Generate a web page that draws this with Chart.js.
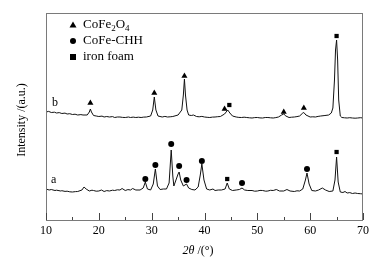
<!DOCTYPE html>
<html>
<head>
<meta charset="utf-8">
<script src="https://cdn.jsdelivr.net/npm/chart.js@4"></script>
<style>
  html, body { margin: 0; padding: 0; background: #fff; }
  #wrap { width: 380px; height: 262px; }
</style>
</head>
<body>
<div id="wrap"><canvas id="xrd"></canvas></div>
<script>
// pattern a: CoFe-CHH on iron foam (2theta, intensity a.u.)
const angleA = [10, 10.6, 11, 11.7, 12, 12.8, 13, 13.6, 14, 14.5, 15, 15.6, 16, 16.8, 17.2, 17.6, 18.2, 18.7, 19, 19.5, 20, 20.5, 21, 21.5, 22, 22.6, 23, 23.5, 24, 24.4, 25, 25.5, 26, 26.4, 27, 27.8, 28.4, 28.8, 29.2, 29.8, 30.3, 30.7, 31.1, 31.6, 32.2, 32.8, 33.3, 33.7, 34.0, 34.2, 34.6, 35.0, 35.2, 35.5, 36.0, 36.6, 37.0, 37.6, 38.2, 38.8, 39.2, 39.5, 39.9, 40.4, 41, 41.6, 42, 42.6, 43.2, 43.9, 44.3, 44.7, 45.3, 46, 46.6, 47.1, 47.6, 48.2, 49, 49.5, 50, 50.5, 51, 51.6, 52, 52.5, 53, 53.6, 54.2, 55, 55.6, 56.2, 57, 57.5, 58, 58.6, 59.1, 59.4, 59.8, 60.3, 61, 61.6, 62.3, 62.9, 63.6, 64.3, 64.7, 65.0, 65.3, 65.7, 66.2, 66.6, 67, 67.5, 68, 68.5, 69, 69.5, 70];
const intensityA = [31, 30, 30.5, 29.5, 29.8, 29, 29.3, 28.6, 28.8, 28.2, 28, 28.4, 28.5, 30, 33, 31, 29, 29.8, 29.5, 28.8, 29, 30, 28.5, 29.4, 29, 29.8, 29.5, 30.2, 30, 31.5, 29.5, 30.4, 30, 31.5, 30, 30, 32, 38, 31, 30, 36, 51, 34, 30.5, 31, 31, 37, 70, 44, 34, 40, 46, 48, 40, 34, 36, 32, 30.5, 30, 33, 45, 56, 40, 31, 30, 31, 29.5, 30, 30, 31, 37, 31, 29.5, 30, 30.5, 32, 30, 29.5, 29.5, 28.8, 29, 29.6, 29.5, 28.8, 29, 29.7, 29.5, 30.5, 29, 29, 30.5, 29, 28.5, 29.2, 29, 31, 40, 47, 36, 29.5, 29, 30, 32, 30, 28.5, 29, 40, 63, 38, 28, 27.5, 28.5, 27, 27.4, 26.5, 27, 26.5, 26.3, 26];

// pattern b: CoFe2O4 on iron foam
const angleB = [10, 10.5, 11, 11.6, 12, 12.5, 13, 13.6, 14, 14.5, 15, 15.5, 16, 16.6, 17, 17.8, 18.2, 18.4, 18.6, 19, 19.5, 20, 20.6, 21, 21.5, 22, 22.6, 23, 23.5, 24, 24.5, 25, 25.6, 26, 26.5, 27, 27.5, 28, 28.5, 29, 29.8, 30.2, 30.5, 30.8, 31.2, 32, 32.5, 33, 33.5, 34, 35, 35.7, 36.0, 36.2, 36.4, 36.7, 37, 37.5, 37.9, 38.5, 39, 39.5, 40, 40.5, 41, 41.5, 42, 42.5, 43, 43.8, 44.4, 44.8, 45.3, 46, 46.5, 47, 47.5, 48, 48.5, 49, 49.5, 50, 50.5, 51, 51.5, 52, 52.5, 53, 53.5, 54, 54.6, 55, 55.4, 56, 56.5, 57, 57.5, 58, 58.6, 58.8, 59.2, 60, 60.5, 61, 61.5, 62, 62.8, 63.5, 64.0, 64.3, 64.6, 64.8, 65.0, 65.2, 65.4, 65.7, 66, 66.5, 67, 67.5, 68, 68.5, 69, 69.5, 70];
const intensityB = [108, 108.6, 107.5, 107.8, 107, 107.4, 106.5, 106.9, 106, 106.3, 105.5, 105.8, 105, 105.4, 105, 105, 108, 111, 108, 104.5, 104, 103.5, 103.9, 103, 103.5, 103, 103.4, 102.5, 103, 103, 102.6, 102.5, 103, 102.5, 102.9, 102.5, 102.8, 102.5, 102.9, 103, 104, 110, 123, 110, 104, 103, 103.6, 103, 103.2, 103.5, 105, 110, 125, 141, 125, 110, 105, 104.5, 105, 103.5, 103.2, 103.6, 103, 102.7, 102.5, 102.9, 103, 103.3, 103.5, 106, 110, 107, 104, 103, 102.6, 102.5, 102.8, 102.5, 102.2, 102, 102.4, 102.5, 102.1, 102, 102.5, 102.5, 102.2, 102, 102.4, 103, 105, 106, 104, 102.5, 102.8, 103, 103.4, 104, 107, 107.5, 105, 103, 103.2, 103, 103.6, 104, 104.5, 105, 107, 112, 140, 170, 180, 160, 120, 104, 102.5, 102.2, 102, 102.3, 102, 101.8, 102, 102.3, 102];

// phase markers
const spinelAngles = [18.4, 30.5, 36.2, 43.8, 55.0, 58.8];
const spinelHeights = [117, 127, 144, 111, 108, 112];
const chhAngles = [28.8, 30.7, 33.7, 35.2, 36.6, 39.5, 47.1, 59.4];
const chhHeights = [41, 55, 76, 54, 40, 59, 37, 51];
const foamAngles = [44.7, 65.0, 44.3, 65.0];
const foamHeights = [115, 184, 41, 68];

const xTicks = [10, 20, 30, 40, 50, 60, 70];
const serif = "'Liberation Serif', 'Times New Roman', serif";

function pts(xs, ys) {
  return xs.map((x, i) => ({ x: x, y: ys[i] }));
}

function markerSet(xs, ys, style, r) {
  return {
    type: "scatter",
    data: pts(xs, ys),
    pointStyle: style,
    pointRadius: r,
    backgroundColor: "#000",
    borderColor: "#000",
    borderWidth: 0
  };
}

// frame, inward ticks, titles, curve labels and legend
const decor = {
  id: "decor",
  afterDraw(chart) {
    const ctx = chart.ctx;
    const a = chart.chartArea;
    const xs = chart.scales.x;
    ctx.save();
    ctx.strokeStyle = "#7a7a7a";
    ctx.lineWidth = 1;
    ctx.strokeRect(a.left + 0.5, a.top + 0.5, a.right - a.left - 1, a.bottom - a.top);
    ctx.strokeStyle = "#444";
    for (let v = 10; v <= 70; v += 5) {
      const px = Math.round(xs.getPixelForValue(v)) + 0.5;
      const len = v % 10 === 0 ? 7 : 3;
      ctx.beginPath();
      ctx.moveTo(px, a.bottom);
      ctx.lineTo(px, a.bottom - len);
      ctx.stroke();
    }

    ctx.fillStyle = "#000";
    ctx.textBaseline = "middle";
    ctx.font = "12px " + serif;
    ctx.fillText("b", 52, 103);
    ctx.fillText("a", 51, 180);

    // x title
    ctx.textAlign = "left";
    ctx.font = "italic 12px " + serif;
    const t1 = "2\u03b8";
    const w1 = ctx.measureText(t1).width;
    ctx.font = "12px " + serif;
    const t2 = " /(\u00b0)";
    const w2 = ctx.measureText(t2).width;
    let sx = 198 - (w1 + w2) / 2;
    ctx.font = "italic 12px " + serif;
    ctx.fillText(t1, sx, 251);
    ctx.font = "12px " + serif;
    ctx.fillText(t2, sx + w1, 251);

    // y title
    ctx.save();
    ctx.translate(22, 120);
    ctx.rotate(-Math.PI / 2);
    ctx.textAlign = "center";
    ctx.fillText("Intensity /(a.u.)", 0, 0);
    ctx.restore();

    // legend
    const lx = 73;
    const rows = [25, 41, 57];
    ctx.beginPath();
    ctx.moveTo(lx, rows[0] - 3.5);
    ctx.lineTo(lx + 3.5, rows[0] + 2.5);
    ctx.lineTo(lx - 3.5, rows[0] + 2.5);
    ctx.closePath();
    ctx.fill();
    ctx.beginPath();
    ctx.arc(lx, rows[1], 3, 0, Math.PI * 2);
    ctx.fill();
    ctx.fillRect(lx - 3, rows[2] - 3, 6, 6);

    ctx.font = "13px " + serif;
    ctx.textAlign = "left";
    let tx = 83;
    ctx.fillText("CoFe", tx, rows[0]);
    tx += ctx.measureText("CoFe").width;
    ctx.font = "9px " + serif;
    ctx.fillText("2", tx, rows[0] + 4);
    tx += ctx.measureText("2").width;
    ctx.font = "13px " + serif;
    ctx.fillText("O", tx, rows[0]);
    tx += ctx.measureText("O").width;
    ctx.font = "9px " + serif;
    ctx.fillText("4", tx, rows[0] + 4);
    ctx.font = "13px " + serif;
    ctx.fillText("CoFe-CHH", 83, rows[1]);
    ctx.fillText("iron foam", 83, rows[2]);
    ctx.restore();
  }
};

new Chart(document.getElementById("xrd"), {
  type: "line",
  data: {
    datasets: [
      { data: pts(angleA, intensityA), borderColor: "#111", borderWidth: 1, pointRadius: 0, tension: 0, fill: false },
      { data: pts(angleB, intensityB), borderColor: "#111", borderWidth: 1, pointRadius: 0, tension: 0, fill: false },
      markerSet(spinelAngles, spinelHeights, "triangle", 3.5),
      markerSet(chhAngles, chhHeights, "circle", 3),
      markerSet(foamAngles, foamHeights, "rect", 3)
    ]
  },
  options: {
    responsive: true,
    maintainAspectRatio: false,
    animation: false,
    layout: { padding: { top: 13, right: 17, left: 0, bottom: 0 } },
    plugins: { legend: { display: false }, tooltip: { enabled: false } },
    scales: {
      x: {
        type: "linear",
        min: 10,
        max: 70,
        afterBuildTicks: (s) => { s.ticks = xTicks.map((v) => ({ value: v })); },
        afterFit: (s) => { s.height = 42; },
        grid: { display: false, drawTicks: false },
        border: { display: false },
        ticks: { color: "#000", padding: 4, font: { family: serif, size: 12 } }
      },
      y: {
        min: 0,
        max: 207,
        afterFit: (s) => { s.width = 46; },
        grid: { display: false, drawTicks: false },
        border: { display: false },
        ticks: { display: false }
      }
    }
  },
  plugins: [decor]
});
</script>
</body>
</html>
